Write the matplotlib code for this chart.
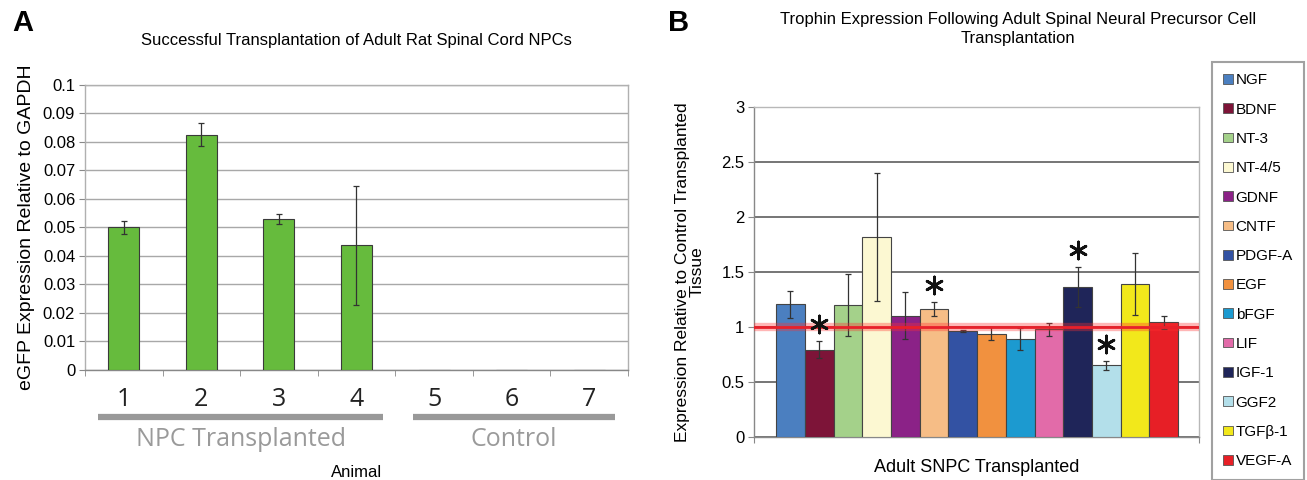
import matplotlib
matplotlib.use('Agg')
import matplotlib.pyplot as plt
import numpy as np

plt.rcParams['font.family'] = ['Liberation Sans', 'DejaVu Sans']

# panel A: eGFP expression per animal
animals = ['1', '2', '3', '4', '5', '6', '7']
egfp = [0.050, 0.0826, 0.053, 0.0437, 0.0, 0.0, 0.0]
egfp_err = [0.0022, 0.0041, 0.0017, 0.021, 0.0, 0.0, 0.0]
groups = ['NPC Transplanted', 'Control']

# panel B: trophin expression relative to control
factors = ['NGF', 'BDNF', 'NT-3', 'NT-4/5', 'GDNF', 'CNTF', 'PDGF-A', 'EGF',
           'bFGF', 'LIF', 'IGF-1', 'GGF2', 'TGF\u03b2-1', 'VEGF-A']
expr = [1.206, 0.794, 1.200, 1.818, 1.104, 1.163, 0.966, 0.939,
        0.894, 0.979, 1.366, 0.652, 1.390, 1.042]
expr_err = [0.12, 0.08, 0.28, 0.58, 0.21, 0.065, 0.01, 0.06,
            0.10, 0.06, 0.18, 0.04, 0.28, 0.06]
significant = ['BDNF', 'CNTF', 'IGF-1', 'GGF2']
colors = ['#4b7fc0', '#7d1438', '#a4d18a', '#fcf8d2', '#8b2287', '#f6bd86',
          '#3352a3', '#f1913f', '#1c9ad0', '#e26ba9', '#1f2559', '#b3dfea',
          '#f2e81b', '#e71f26']

fig = plt.figure(figsize=(13.07, 4.8), dpi=100)
fig.set_facecolor('white')

# ---------------- panel A ----------------
axA = fig.add_axes([0.0650, 0.2292, 0.4155, 0.5938])
x = np.arange(1, len(animals) + 1)
axA.bar(x, egfp, width=0.40, color='#66bb3d', edgecolor='#3a3a3a', linewidth=0.8,
        zorder=3)
axA.errorbar(x[:4], egfp[:4], yerr=egfp_err[:4], fmt='none', ecolor='#333333',
             elinewidth=0.9, capsize=2, capthick=0.9, zorder=4)
axA.set_xlim(0.5, 7.5)
axA.set_ylim(0, 0.1)
axA.set_yticks(np.arange(0, 0.101, 0.01))
axA.set_yticklabels(['0'] + ['%.2f' % v for v in np.arange(0.01, 0.1, 0.01)] + ['0.1'],
                    fontsize=12)
axA.yaxis.grid(True, color='#a8a8a8', linewidth=1.0, zorder=0)
for s in axA.spines.values():
    s.set_color('#b0b0b0')
    s.set_linewidth(1.0)
axA.spines['bottom'].set_color('#888888')
axA.set_xticks(x)
axA.set_xticklabels(animals, fontsize=18, family='Open Sans', color='#222222')
axA.tick_params(axis='x', length=0, pad=12)
axA.set_xticks(np.arange(0.5, 7.6, 1), minor=True)
axA.tick_params(axis='x', which='minor', length=4, color='#888888')
axA.tick_params(axis='y', length=4, color='#888888', pad=3)
axA.set_ylabel('eGFP Expression Relative to GAPDH', fontsize=14, labelpad=6)
axA.set_title('Successful Transplantation of Adult Rat Spinal Cord NPCs',
              fontsize=12, pad=29)

# group underlines and labels
tr = axA.get_xaxis_transform()
for (x0, x1), name in zip([(0.67, 4.34), (4.73, 7.33)], groups):
    axA.plot([x0, x1], [-0.165, -0.165], color='#999999', linewidth=4.5,
             transform=tr, clip_on=False, solid_capstyle='butt')
    axA.text((x0 + x1) / 2, -0.243, name, transform=tr, ha='center', va='center',
             fontsize=18, family='Open Sans', color='#9a9a9a')
axA.text(0.5, -0.358, 'Animal', transform=axA.transAxes, ha='center',
         va='center', fontsize=12)

# ---------------- panel B ----------------
axB = fig.add_axes([0.5769, 0.0896, 0.3405, 0.6875])
xb = np.arange(len(factors))
axB.bar(xb, expr, width=1.0, color=colors, edgecolor='#444444',
        linewidth=0.8, zorder=3)
axB.errorbar(xb, expr, yerr=expr_err, fmt='none', ecolor='#333333',
             elinewidth=0.9, capsize=2, capthick=0.9, zorder=4)
axB.axhline(1.0, color='#ff3030', linewidth=6, alpha=0.35, zorder=5)
axB.axhline(1.0, color='#e8202a', linewidth=2, zorder=5)

# significance asterisks above the error bars
sig_idx = [factors.index(n) for n in significant]
sig_y = [expr[i] + expr_err[i] + 0.15 for i in sig_idx]
axB.scatter(sig_idx, sig_y, marker=(6, 2, 0), s=150, color='#111111',
            linewidths=2.0, zorder=6)

axB.set_xlim(-1.27, 14.23)
axB.set_ylim(0, 3)
axB.set_yticks(np.arange(0, 3.01, 0.5))
axB.set_yticklabels(['0', '0.5', '1', '1.5', '2', '2.5', '3'], fontsize=12)
axB.yaxis.grid(True, color='#6a6a6a', linewidth=1.3, zorder=0)
for s in axB.spines.values():
    s.set_color('#b8b8b8')
    s.set_linewidth(1.0)
axB.spines['bottom'].set_color('#888888')
axB.spines['left'].set_color('#888888')
axB.set_xticks([-1.27, 14.23])
axB.set_xticklabels(['', ''])
axB.tick_params(axis='x', length=4, color='#888888')
axB.tick_params(axis='y', length=4, color='#888888', pad=3)
axB.set_ylabel('Expression Relative to Control Transplanted\nTissue',
               fontsize=12.5, labelpad=12, linespacing=0.95)
axB.set_xlabel('Adult SNPC Transplanted', fontsize=13, labelpad=8)

handles = [plt.Rectangle((0, 0), 1, 1, facecolor=c, edgecolor='#555555',
                         linewidth=0.6) for c in colors]
leg = fig.legend(handles, factors, loc='upper left',
                 bbox_to_anchor=(1212 / 1307, 1 - 62 / 480),
                 bbox_transform=fig.transFigure, fontsize=11, frameon=True,
                 fancybox=False, edgecolor='#8a8a8a', handlelength=0.6,
                 handleheight=0.6, handletextpad=0.2, labelspacing=1.0,
                 borderpad=0.75, borderaxespad=0)
leg.get_frame().set_linewidth(1.5)

fig.text(0.5 * (753 + 1283) / 1307, 1 - 29 / 480,
         'Trophin Expression Following Adult Spinal Neural Precursor Cell\nTransplantation',
         ha='center', va='center', fontsize=12, linespacing=1.4)

# panel letters
fig.text(12 / 1307, 1 - 23 / 480, 'A', fontsize=21, fontweight='bold', va='center')
fig.text(668 / 1307, 1 - 23 / 480, 'B', fontsize=21, fontweight='bold', va='center')

fig.savefig('out.png', dpi=100, facecolor='white')
